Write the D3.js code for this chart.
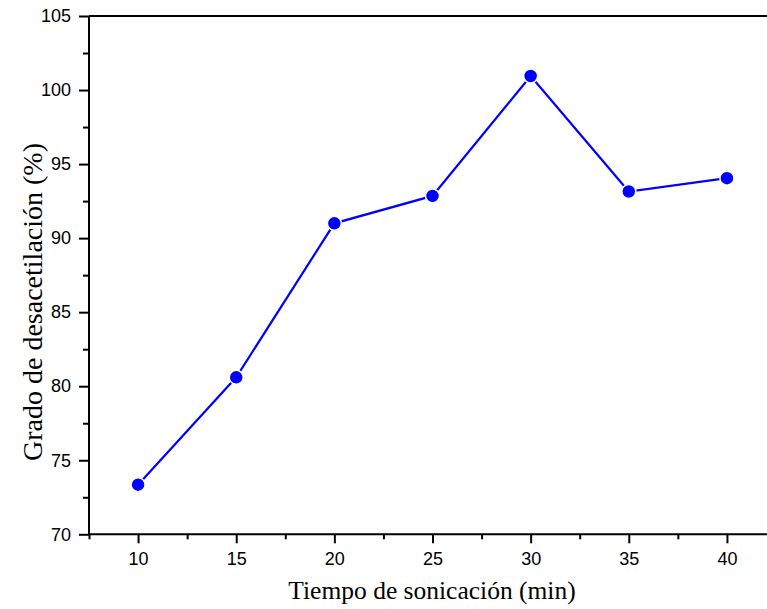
<!DOCTYPE html>
<html>
<head>
<meta charset="utf-8">
<script src="https://cdn.jsdelivr.net/npm/d3@7"></script>
<style>
  html, body { margin: 0; padding: 0; background: #fff; }
  svg { display: block; }
  .tick-label { font-family: "Liberation Sans", Arial, sans-serif; font-size: 18px; fill: #000; }
  .axis-title { font-family: "Liberation Serif", "Times New Roman", serif; fill: #000; }
</style>
</head>
<body>
<svg id="chart" width="767" height="609"></svg>
<script>
// datos
const tiempo = [10, 15, 20, 25, 30, 35, 40];
const grado = [73.35, 80.6, 91.0, 92.85, 100.95, 93.15, 94.05];
const xTicks = [10, 15, 20, 25, 30, 35, 40];
const yTicks = [70, 75, 80, 85, 90, 95, 100, 105];

const svg = d3.select("#chart");
const mLeft = 89, mTop = 16, mBottom = 534.3, mRight = 776;

const x = d3.scaleLinear().domain([7.5, 42.5]).range([mLeft, mRight]);
const y = d3.scaleLinear().domain([70, 105]).range([mBottom, mTop]);

// minor ticks en medio de los mayores
const xMinor = d3.range(7.5, 42.6, 5);
const yMinor = d3.range(72.5, 105, 5);

// eje X
const gx = svg.append("g").attr("transform", `translate(0,${mBottom})`);
gx.call(d3.axisBottom(x).tickValues(xTicks).tickSize(9).tickPadding(9).tickFormat(d3.format("d")));
gx.append("g").call(d3.axisBottom(x).tickValues(xMinor).tickSize(5).tickFormat(""))
  .select(".domain").remove();

// eje Y
const gy = svg.append("g").attr("transform", `translate(${mLeft},0)`);
gy.call(d3.axisLeft(y).tickValues(yTicks).tickSize(10).tickPadding(8).tickFormat(d3.format("d")));
gy.append("g").call(d3.axisLeft(y).tickValues(yMinor).tickSize(6).tickFormat(""))
  .select(".domain").remove();

[gx, gy].forEach(g => {
  g.selectAll(".domain").attr("stroke", "#000").attr("stroke-width", 2);
  g.selectAll(".tick line").attr("stroke", "#000").attr("stroke-width", 2);
  g.selectAll(".tick text").attr("class", "tick-label");
  g.attr("font-size", null).attr("font-family", null);
});
gx.select(".domain").attr("d", `M${mLeft},0H${mRight}`);
gy.select(".domain").attr("d", `M0,${mBottom}V${mTop}`);

// borde superior
svg.append("line")
  .attr("x1", mLeft).attr("x2", mRight)
  .attr("y1", mTop).attr("y2", mTop)
  .attr("stroke", "#000").attr("stroke-width", 2);

// línea de datos
const pts = tiempo.map((t, i) => [t, grado[i]]);
svg.append("path")
  .datum(pts)
  .attr("fill", "none")
  .attr("stroke", "#0000ff")
  .attr("stroke-width", 2.2)
  .attr("d", d3.line().x(d => x(d[0])).y(d => y(d[1])));

svg.append("g").selectAll("circle")
  .data(pts)
  .join("circle")
  .attr("cx", d => x(d[0]))
  .attr("cy", d => y(d[1]))
  .attr("r", 7)
  .attr("fill", "#0000ff")
  .attr("stroke", "#fff")
  .attr("stroke-width", 1.5);

// títulos
svg.append("text")
  .attr("class", "axis-title")
  .attr("font-size", 25.5)
  .attr("x", 432)
  .attr("y", 599)
  .attr("text-anchor", "middle")
  .text("Tiempo de sonicación (min)");

svg.append("text")
  .attr("class", "axis-title")
  .attr("font-size", 28)
  .attr("transform", "translate(42,302) rotate(-90)")
  .attr("text-anchor", "middle")
  .text("Grado de desacetilación (%)");
</script>
</body>
</html>
